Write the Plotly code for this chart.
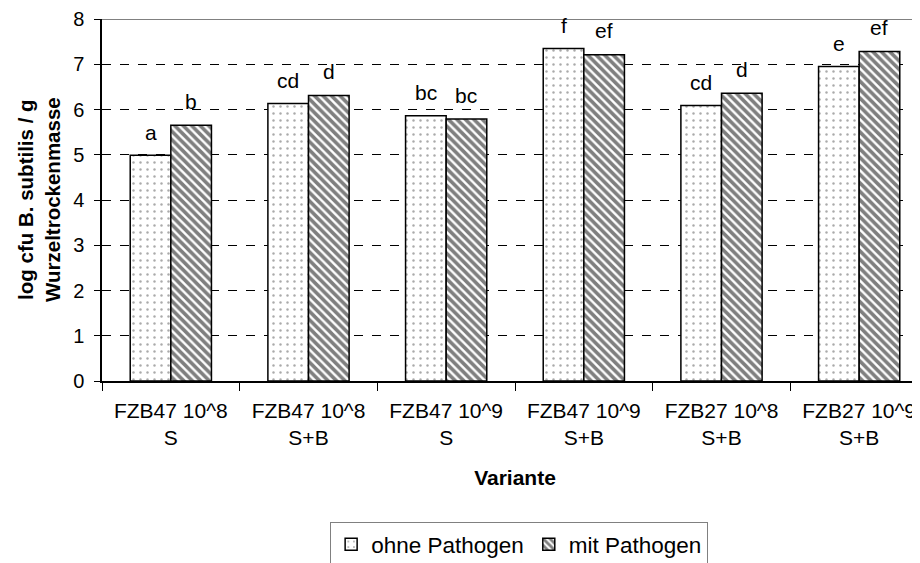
import plotly.graph_objects as go

categories = ["FZB47 10^8<br>S", "FZB47 10^8<br>S+B", "FZB47 10^9<br>S",
              "FZB47 10^9<br>S+B", "FZB27 10^8<br>S+B", "FZB27 10^9<br>S+B"]
ohne = [4.99, 6.13, 5.86, 7.35, 6.09, 6.95]
mit = [5.65, 6.31, 5.79, 7.21, 6.36, 7.28]
letters_ohne = ["a", "cd", "bc", "f", "cd", "e"]
letters_mit = ["b", "d", "bc", "ef", "d", "ef"]

FONT = "Liberation Sans, Arial, sans-serif"

fig = go.Figure()
fig.add_trace(go.Bar(
    x=categories, y=ohne, name="ohne Pathogen",
    marker=dict(color="white", line=dict(color="black", width=1.5),
                pattern=dict(shape=".", size=7, solidity=0.1,
                             fgcolor="#555", bgcolor="white")),
))
fig.add_trace(go.Bar(
    x=categories, y=mit, name="mit Pathogen",
    marker=dict(color="white", line=dict(color="black", width=1.5),
                pattern=dict(shape="\\", size=6, solidity=0.6,
                             fgcolor="black", bgcolor="white")),
))

# significance letters above the bars
for i, (lo, lm) in enumerate(zip(letters_ohne, letters_mit)):
    fig.add_annotation(x=i - 0.146, y=ohne[i], text=lo, showarrow=False,
                       yanchor="middle", yshift=23, font=dict(size=21))
    fig.add_annotation(x=i + 0.146, y=mit[i], text=lm, showarrow=False,
                       yanchor="middle", yshift=24, font=dict(size=21))

fig.add_annotation(xref="paper", yref="paper", x=0, y=0.5, xshift=-63,
                   text="<b>log cfu B. subtilis / g<br>Wurzeltrockenmasse</b>",
                   textangle=-90, showarrow=False, xanchor="center",
                   font=dict(size=20.5))

fig.add_shape(type="line", xref="paper", yref="y", x0=0, x1=1, y0=8, y1=8,
              line=dict(color="#808080", width=2))

# page body has an 8px margin, so shift the plot area up/left
fig.update_layout(
    width=920, height=563,
    margin=dict(l=94, r=0, t=11, b=190),
    paper_bgcolor="white", plot_bgcolor="white",
    font=dict(family=FONT, size=21, color="black"),
    barmode="group", bargap=0.41, bargroupgap=0,
    showlegend=True,
    legend=dict(orientation="h", x=0.505, xanchor="center", y=-0.39,
                yanchor="top", bordercolor="#808080", borderwidth=1,
                bgcolor="white", font=dict(size=22.5), traceorder="normal",
                itemwidth=30),
    xaxis=dict(type="category", showline=True, linecolor="black", linewidth=1.5,
               ticks="outside", tickson="boundaries", ticklen=8,
               tickcolor="black", showgrid=False, ticklabelstandoff=10,
               title=dict(text="<b>Variante</b>", standoff=22,
                          font=dict(size=21))),
    yaxis=dict(range=[0, 8], dtick=1, showline=True, linecolor="black",
               linewidth=1.5, ticks="outside", ticklen=6, tickcolor="black",
               showgrid=True, gridcolor="black", gridwidth=1, griddash="dash",
               zeroline=False, ticklabelstandoff=6, tickfont=dict(size=20)),
)

fig.write_html("out.html")
